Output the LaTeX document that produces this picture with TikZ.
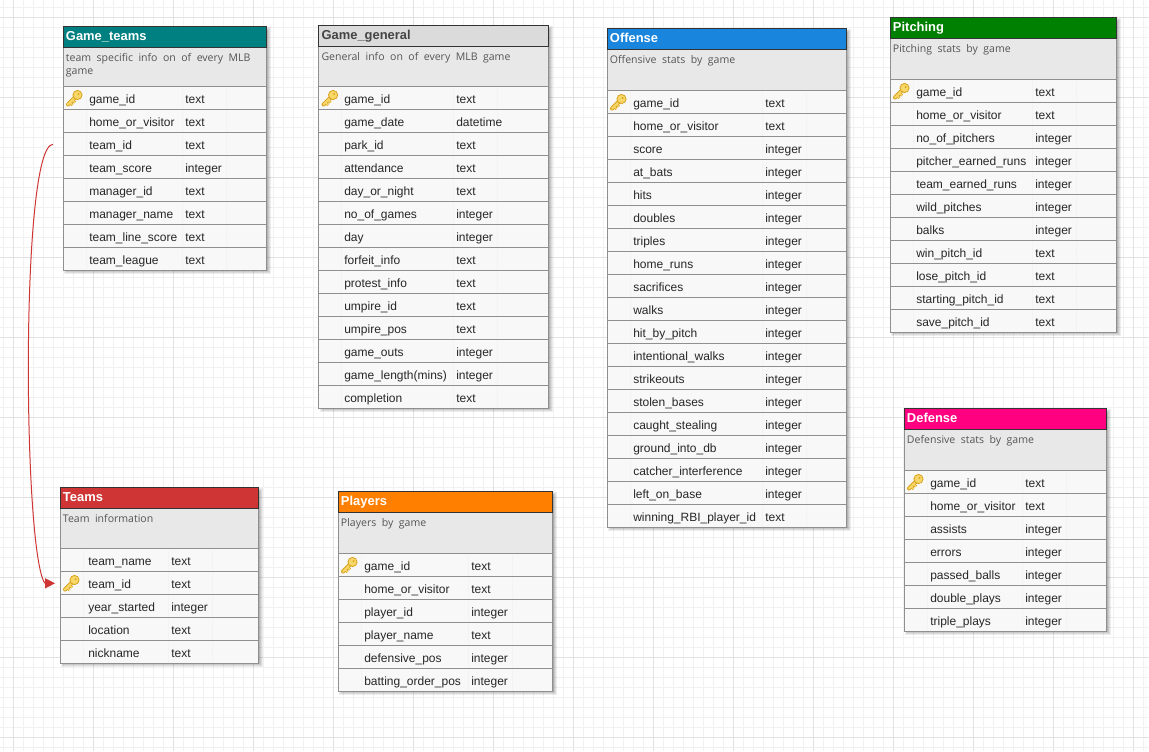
\documentclass[tikz,border=0pt]{standalone}
\usepackage{fontspec}
\setmainfont{Liberation Sans}
\newfontfamily\descfont{Open Sans}
\definecolor{minorgrid}{HTML}{F1F1F1}
\definecolor{majorgrid}{HTML}{E2E2E2}
\definecolor{rowline}{HTML}{8F8F8F}
\definecolor{rowfill}{HTML}{F8F8F8}
\definecolor{colline}{HTML}{F3F3F3}
\definecolor{descfill}{HTML}{E8E8E8}
\definecolor{rowtext}{HTML}{262626}
\definecolor{desctext}{HTML}{555555}
\definecolor{edgedark}{HTML}{333333}
\definecolor{linkred}{HTML}{CF3535}
\definecolor{keyfill}{HTML}{F7D768}
\definecolor{keyedge}{HTML}{D9A21E}
\definecolor{cteal}{HTML}{008080}
\definecolor{cgray}{HTML}{DBDBDB}
\definecolor{cblue}{HTML}{1A85DC}
\definecolor{cgreen}{HTML}{008000}
\definecolor{cpink}{HTML}{FF0080}
\definecolor{cred}{HTML}{CF3535}
\definecolor{corange}{HTML}{FF8000}
\definecolor{titlegray}{HTML}{444444}
\tikzset{
  rowbox/.style={draw=rowline,fill=rowfill,line width=0.75pt,anchor=north west,inner sep=0pt,outer sep=0pt,minimum height=17.25pt},
  headbox/.style={draw=edgedark,line width=0.75pt,anchor=north west,inner sep=0pt,outer sep=0pt},
  descbox/.style={fill=descfill,anchor=north west,inner sep=0pt,outer sep=0pt},
  titletext/.style={anchor=base west,inner sep=0pt,font=\bfseries\fontsize{9.7}{12}\selectfont},
  desctextstyle/.style={anchor=north west,inner sep=0pt,text=desctext,align=left,font=\descfont\fontsize{7.9}{9.8}\selectfont},
  celltext/.style={anchor=base west,inner sep=0pt,text=rowtext,font=\fontsize{9}{11}\selectfont},
  link/.style={draw=linkred,line width=0.75pt},
  linktip/.style={fill=linkred,draw=none}
}
% key icon centred on (#1,#2), in px
\newcommand{\keyicon}[2]{%
  \begin{scope}[shift={(#1,#2)}]
    \draw[keyedge,line width=3pt,line cap=round] (3,-3) -- (-6,6);
    \draw[keyedge,line width=2pt] (-4,4) -- (-1.5,6.5) (-1.5,1.5) -- (1,4);
    \draw[keyfill,line width=1.6pt,line cap=round] (3,-3) -- (-6,6);
    \draw[keyfill,line width=1pt] (-4,4) -- (-1.5,6.5) (-1.5,1.5) -- (1,4);
    \fill[keyfill,draw=keyedge,line width=0.6pt] (3.5,-3.5) circle (4.6);
    \fill[keyedge] (4.5,-4.5) circle (1);
  \end{scope}}
% #1 id, #2 x1, #3 x2, #4 top, #5 rowtop, #6 namex, #7 typex, #8 fill colour, #9 title colour
\newcommand{\tblgeom}[9]{%
  \def\tid{#1}\def\txa{#2}\def\txb{#3}\def\ttop{#4}\def\trow{#5}\def\tnx{#6}\def\ttx{#7}\def\tfill{#8}\def\ttc{#9}}
% #1 title, #2 description, #3 key row, #4 number of rows, #5 rows
\newcommand{\tblbody}[5]{%
  \pgfmathsetmacro\tw{\txb-\txa-0.7}
  \pgfmathsetmacro\tbot{\trow+23*#4-0.3}
  \foreach \k/\o in {1/0.07,2/0.07,3/0.08,4/0.10,5/0.12}{
    \pgfmathsetmacro\e{5-\k}
    \fill[black,opacity=\o] (\txa+5-\e,\ttop+5-\e) rectangle (\txb+\e-0.5,\tbot+\e-0.5);
  }
  \pgfmathsetlengthmacro\twpt{\tw*0.75pt}
  \pgfmathsetlengthmacro\dhpt{(\trow-\ttop-22)*0.75pt}
  \node[descbox,minimum width=\twpt,minimum height=\dhpt] (\tid-desc) at (\txa,\ttop+22) {};
  \node[headbox,fill=\tfill,minimum width=\twpt,minimum height=16.3pt] (\tid-head) at (\txa,\ttop+0.1) {};
  \node[titletext,text=\ttc] (\tid-title) at (\txa+2.7,\ttop+14.7) {#1};
  \node[desctextstyle] (\tid-dtext) at (\txa+2.7,\ttop+27.3) {#2};
  \foreach \n/\t [count=\i] in {#5}{
    \pgfmathsetmacro\yy{\trow+23*(\i-1)-0.2}
    \node[rowbox,minimum width=\twpt] (\tid-r\i) at (\txa,\yy) {};
    \draw[colline,line width=0.6pt] (\txa+23,\yy+1) -- (\txa+23,\yy+22)
       (\ttx-3,\yy+1) -- (\ttx-3,\yy+22) (\ttx+41,\yy+1) -- (\ttx+41,\yy+22);
    \node[celltext] (\tid-n\i) at (\tnx,\yy+16.4) {\n};
    \node[celltext] (\tid-t\i) at (\ttx,\yy+16.4) {\t};
  }
  \draw[rowline,line width=0.75pt] (\txa,\ttop+22) -- (\txa,\trow) (\txa+\tw,\ttop+22) -- (\txa+\tw,\trow);
  \keyicon{\txa+11}{\trow+23*#3-11.5}
}
\begin{document}
\begin{tikzpicture}[x=0.75pt,y=-0.75pt]
\useasboundingbox (0,0) rectangle (1149,751);
\fill[white] (0,0) rectangle (1149,751);
\foreach \g in {3,13,...,1143}{\draw[minorgrid,line width=0.75pt] (\g,0) -- (\g,751);}
\foreach \g in {7,17,...,747}{\draw[minorgrid,line width=0.75pt] (0,\g) -- (1149,\g);}
\foreach \g in {13,93,...,1133}{\draw[majorgrid,line width=0.75pt] (\g,0) -- (\g,751);}
\foreach \g in {17,97,...,737}{\draw[majorgrid,line width=0.75pt] (0,\g) -- (1149,\g);}

\tblgeom{gt}{63}{267}{26}{87}{89}{185}{cteal}{white}
\tblbody{Game\_teams}{team\ \ specific\ \ info\ \ on\ \ of\ \ every\ \ MLB\\game}{1}{8}{game\_id/text,home\_or\_visitor/text,team\_id/text,team\_score/integer,manager\_id/text,manager\_name/text,team\_line\_score/text,team\_league/text}

\tblgeom{gg}{318.6}{549}{25}{87}{344}{456}{cgray}{titlegray}
\tblbody{Game\_general}{General\ \ info\ \ on\ \ of\ \ every\ \ MLB\ \ game}{1}{14}{game\_id/text,game\_date/datetime,park\_id/text,attendance/text,day\_or\_night/text,no\_of\_games/integer,day/integer,forfeit\_info/text,protest\_info/text,umpire\_id/text,umpire\_pos/text,game\_outs/integer,game\_length(mins)/integer,completion/text}

\tblgeom{of}{607}{847}{28}{91}{633}{765}{cblue}{white}
\tblbody{Offense}{Offensive\ \ stats\ \ by\ \ game}{1}{19}{game\_id/text,home\_or\_visitor/text,score/integer,at\_bats/integer,hits/integer,doubles/integer,triples/integer,home\_runs/integer,sacrifices/integer,walks/integer,hit\_by\_pitch/integer,intentional\_walks/integer,strikeouts/integer,stolen\_bases/integer,caught\_stealing/integer,ground\_into\_db/integer,catcher\_interference/integer,left\_on\_base/integer,winning\_RBI\_player\_id/text}

\tblgeom{pi}{890}{1117}{17}{80}{916}{1035}{cgreen}{white}
\tblbody{Pitching}{Pitching\ \ stats\ \ by\ \ game}{1}{11}{game\_id/text,home\_or\_visitor/text,no\_of\_pitchers/integer,pitcher\_earned\_runs/integer,team\_earned\_runs/integer,wild\_pitches/integer,balks/integer,win\_pitch\_id/text,lose\_pitch\_id/text,starting\_pitch\_id/text,save\_pitch\_id/text}

\tblgeom{de}{904}{1107}{408}{471}{930}{1025}{cpink}{white}
\tblbody{Defense}{Defensive\ \ stats\ \ by\ \ game}{1}{7}{game\_id/text,home\_or\_visitor/text,assists/integer,errors/integer,passed\_balls/integer,double\_plays/integer,triple\_plays/integer}

\tblgeom{te}{60}{259}{487}{549}{88}{171}{cred}{white}
\tblbody{Teams}{Team\ \ information}{2}{5}{team\_name/text,team\_id/text,year\_started/integer,location/text,nickname/text}

\tblgeom{pl}{338}{553}{491}{554}{364}{471}{corange}{white}
\tblbody{Players}{Players\ \ by\ \ game}{1}{6}{game\_id/text,home\_or\_visitor/text,player\_id/integer,player\_name/text,defensive\_pos/integer,batting\_order\_pos/integer}

\coordinate (linkstart) at ([xshift=-7.5pt]gt-r3.west);
\coordinate (linkend) at ([xshift=-3.75pt]te-r2.west);
\coordinate (tipback) at ([xshift=-11.25pt]te-r2.west);
\draw[link] (linkstart) .. controls (20,145) and (23,555) .. (tipback);
\fill[linktip] (linkend) -- ([yshift=3.9pt]tipback) -- ([yshift=-3.9pt]tipback) -- cycle;
\end{tikzpicture}
\end{document}
